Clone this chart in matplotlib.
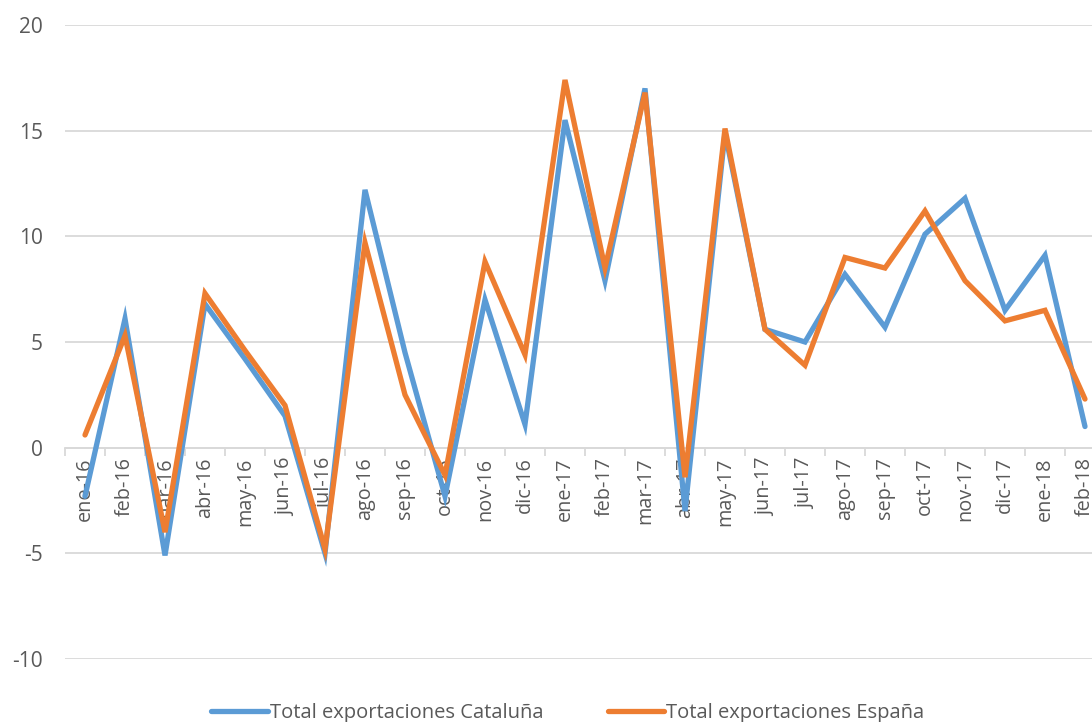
import matplotlib.pyplot as plt
from matplotlib.ticker import FixedLocator

plt.rcParams['font.family'] = ['Open Sans', 'DejaVu Sans']
plt.rcParams['axes.unicode_minus'] = False

meses = ["ene-16", "feb-16", "mar-16", "abr-16", "may-16", "jun-16", "jul-16",
         "ago-16", "sep-16", "oct-16", "nov-16", "dic-16", "ene-17", "feb-17",
         "mar-17", "abr-17", "may-17", "jun-17", "jul-17", "ago-17", "sep-17",
         "oct-17", "nov-17", "dic-17", "ene-18", "feb-18"]
cataluna = [-2.3, 6.1, -5.1, 6.8, 4.2, 1.5, -5.0, 12.2, 4.5, -2.3, 7.0, 1.1, 15.5,
            7.9, 17.0, -3.0, 14.9, 5.6, 5.0, 8.2, 5.7, 10.1, 11.8, 6.5, 9.1, 1.0]
espana = [0.6, 5.3, -4.0, 7.3, 4.6, 2.0, -4.8, 9.7, 2.5, -1.3, 8.8, 4.4, 17.4,
          8.5, 16.8, -1.4, 15.1, 5.6, 3.9, 9.0, 8.5, 11.2, 7.9, 6.0, 6.5, 2.3]

blue = "#5B9BD5"
orange = "#ED7D31"
grey_txt = "#595959"

fig = plt.figure(figsize=(10.92, 7.22), dpi=100)
ax = fig.add_axes([65 / 1092, 1 - 659 / 722, 1040 / 1092, (659 - 25) / 722])

x = list(range(len(meses)))
ax.plot(x, cataluna, color=blue, lw=3.8, solid_capstyle='round', solid_joinstyle='miter',
        label="Total exportaciones Cataluña", zorder=3)
ax.plot(x, espana, color=orange, lw=3.8, solid_capstyle='round', solid_joinstyle='miter',
        label="Total exportaciones España", zorder=4)

ax.set_xlim(-0.5, len(meses) - 0.5)
ax.set_ylim(-10, 20)
ax.set_yticks([-10, -5, 0, 5, 10, 15, 20])
ax.yaxis.grid(True, color="#D9D9D9", lw=1.3)
ax.set_axisbelow(True)

for s in ['top', 'right', 'left']:
    ax.spines[s].set_visible(False)
ax.spines['bottom'].set_position(('data', 0))
ax.spines['bottom'].set_color("#D9D9D9")
ax.spines['bottom'].set_linewidth(1.3)

ax.set_xticks(x)
ax.set_xticklabels(meses, rotation=90, color=grey_txt, fontsize=14.3)
ax.tick_params(axis='x', which='major', length=0, pad=7)
ax.xaxis.set_minor_locator(FixedLocator([i - 0.5 for i in range(len(meses) + 1)]))
ax.tick_params(axis='x', which='minor', length=6, width=1.3, color="#D9D9D9")
ax.tick_params(axis='y', length=0, labelsize=15, labelcolor=grey_txt, pad=16)

leg = fig.legend(loc='lower center', bbox_to_anchor=(0.52, -0.026), ncol=2, frameon=False,
                 fontsize=14.5, handlelength=2.8, handletextpad=0.1, columnspacing=3.2)
for t in leg.get_texts():
    t.set_color(grey_txt)

fig.savefig("out.png", dpi=100)
